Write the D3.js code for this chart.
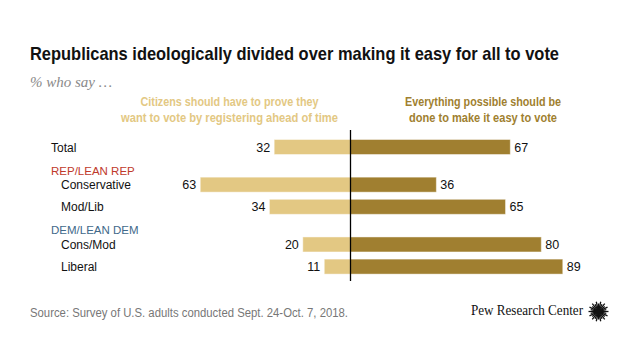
<!DOCTYPE html>
<html>
<head>
<meta charset="utf-8">
<script src="https://cdn.jsdelivr.net/npm/d3@7"></script>
<style>
  html, body { margin: 0; padding: 0; background: #fff; }
  svg { display: block; }
</style>
</head>
<body>
<svg id="chart" width="640" height="360"></svg>
<script>
// ---- data ----
const categories = ["Total", "Conservative", "Mod/Lib", "Cons/Mod", "Liberal"];
const groupOf = ["", "REP/LEAN REP", "REP/LEAN REP", "DEM/LEAN DEM", "DEM/LEAN DEM"];
const groupNames = ["REP/LEAN REP", "DEM/LEAN DEM"];
const proveValues = [32, 63, 34, 20, 11];
const easyValues = [67, 36, 65, 80, 89];
const proveHeader = ["Citizens should have to prove they", "want to vote by registering ahead of time"];
const easyHeader = ["Everything possible should be", "done to make it easy to vote"];
const titleText = "Republicans ideologically divided over making it easy for all to vote";
const subtitleText = "% who say \u2026";
const sourceText = "Source: Survey of U.S. adults conducted Sept. 24-Oct. 7, 2018.";
const brandText = "Pew Research Center";

// ---- style ----
const SANS = "'Liberation Sans Narrow','Arial Narrow','Liberation Sans',Arial,sans-serif";
const SANS_REG = "'Liberation Sans',Arial,sans-serif";
const lightGold = "#E3C883";
const darkGold = "#A07F30";
const groupColors = {"REP/LEAN REP": "#C0392B", "DEM/LEAN DEM": "#41698A"};

const svg = d3.select("#chart");

function fit(sel, w) {
  const n = sel.node();
  const cur = n.getComputedTextLength();
  if (Math.abs(cur - w) > 0.5) sel.attr("textLength", w).attr("lengthAdjust", "spacingAndGlyphs");
  return sel;
}

// title
fit(svg.append("text").attr("x", 30).attr("y", 59.5)
  .attr("font-family", SANS).attr("font-weight", "bold").attr("font-size", 18.5)
  .attr("fill", "#111").text(titleText), 529);

// subtitle
svg.append("text").attr("x", 30).attr("y", 86.5)
  .attr("font-family", "'Liberation Serif','DejaVu Serif',Georgia,serif")
  .attr("font-style", "italic").attr("font-size", 15).attr("fill", "#8a8a8a")
  .text(subtitleText);

// scales
const zeroX = 350.5;
const x = d3.scaleLinear().domain([0, 100]).range([0, 238.5]);
// row positions: header rows take extra space
const rowPos = [];
{
  let p = 0, prevGroup = null;
  categories.forEach((c, i) => {
    if (i > 0) p += 1;
    if (groupOf[i] && groupOf[i] !== prevGroup) p += 0.7;
    prevGroup = groupOf[i];
    rowPos.push(p);
  });
}
const y = d3.scaleLinear().domain([0, 1]).range([147, 147 + 22.15]);
const barH = 15;

// headers
proveHeader.forEach((t, i) => {
  const s = svg.append("text").attr("x", 229.5).attr("y", 106 + i * 15.5)
    .attr("text-anchor", "middle").attr("font-family", SANS).attr("font-weight", "bold")
    .attr("font-size", 12.5).attr("fill", lightGold).text(t);
  fit(s, i === 0 ? 178 : 217);
});
easyHeader.forEach((t, i) => {
  const s = svg.append("text").attr("x", 483).attr("y", 106 + i * 15.5)
    .attr("text-anchor", "middle").attr("font-family", SANS).attr("font-weight", "bold")
    .attr("font-size", 12.5).attr("fill", darkGold).text(t);
  fit(s, i === 0 ? 156 : 148);
});

const rows = categories.map((c, i) => ({
  cat: c, group: groupOf[i], prove: proveValues[i], easy: easyValues[i], pos: rowPos[i]
}));

// group labels
groupNames.forEach(g => {
  const first = rows.find(r => r.group === g);
  svg.append("text").attr("x", 51).attr("y", y(first.pos) - 10)
    .attr("font-family", SANS_REG).attr("font-size", 11.5)
    .attr("fill", groupColors[g]).text(g);
});

// category labels
svg.selectAll("text.cat").data(rows).join("text").attr("class", "cat")
  .attr("x", d => d.group ? 61 : 51)
  .attr("y", d => y(d.pos) + 4.5)
  .attr("font-family", SANS_REG).attr("font-size", 12).attr("fill", "#111")
  .text(d => d.cat);

// bars
svg.selectAll("rect.prove").data(rows).join("rect").attr("class", "prove")
  .attr("x", d => zeroX - x(d.prove)).attr("y", d => y(d.pos) - barH / 2)
  .attr("width", d => x(d.prove)).attr("height", barH)
  .attr("fill", lightGold).attr("stroke", "#fff").attr("stroke-opacity", 0.45).attr("stroke-width", 1);
svg.selectAll("rect.easy").data(rows).join("rect").attr("class", "easy")
  .attr("x", zeroX).attr("y", d => y(d.pos) - barH / 2)
  .attr("width", d => x(d.easy)).attr("height", barH)
  .attr("fill", darkGold).attr("stroke", "#fff").attr("stroke-opacity", 0.45).attr("stroke-width", 1);

// value labels
svg.selectAll("text.pv").data(rows).join("text").attr("class", "pv")
  .attr("x", d => zeroX - x(d.prove) - 4).attr("y", d => y(d.pos) + 4.5)
  .attr("text-anchor", "end").attr("font-family", SANS_REG).attr("font-size", 12.5).attr("fill", "#111")
  .text(d => d.prove);
svg.selectAll("text.ev").data(rows).join("text").attr("class", "ev")
  .attr("x", d => zeroX + x(d.easy) + 4).attr("y", d => y(d.pos) + 4.5)
  .attr("text-anchor", "start").attr("font-family", SANS_REG).attr("font-size", 12.5).attr("fill", "#111")
  .text(d => d.easy);

// zero line
svg.append("line").attr("x1", zeroX).attr("x2", zeroX).attr("y1", 130).attr("y2", 281)
  .attr("stroke", "#000").attr("stroke-width", 1.3);

// source
fit(svg.append("text").attr("x", 30).attr("y", 316.5)
  .attr("font-family", SANS_REG).attr("font-size", 12).attr("fill", "#777").text(sourceText), 318);

// brand
fit(svg.append("text").attr("x", 471).attr("y", 315)
  .attr("font-family", "'Liberation Serif','DejaVu Serif',serif").attr("font-size", 14.5)
  .attr("fill", "#111").text(brandText), 112);

// sunburst logo
{
  const cx = 598.5, cy = 311.5;
  const g = svg.append("g");
  const n = 28;
  for (let k = 0; k < n; k++) {
    const a = (k / n) * 2 * Math.PI;
    const r2 = k % 2 === 0 ? 10 : 8;
    g.append("line")
      .attr("x1", cx + Math.cos(a) * 2.5).attr("y1", cy + Math.sin(a) * 2.5)
      .attr("x2", cx + Math.cos(a) * r2).attr("y2", cy + Math.sin(a) * r2)
      .attr("stroke", "#111").attr("stroke-width", 1.3);
  }
  g.append("circle").attr("cx", cx).attr("cy", cy).attr("r", 3).attr("fill", "#111");
}
</script>
</body>
</html>
